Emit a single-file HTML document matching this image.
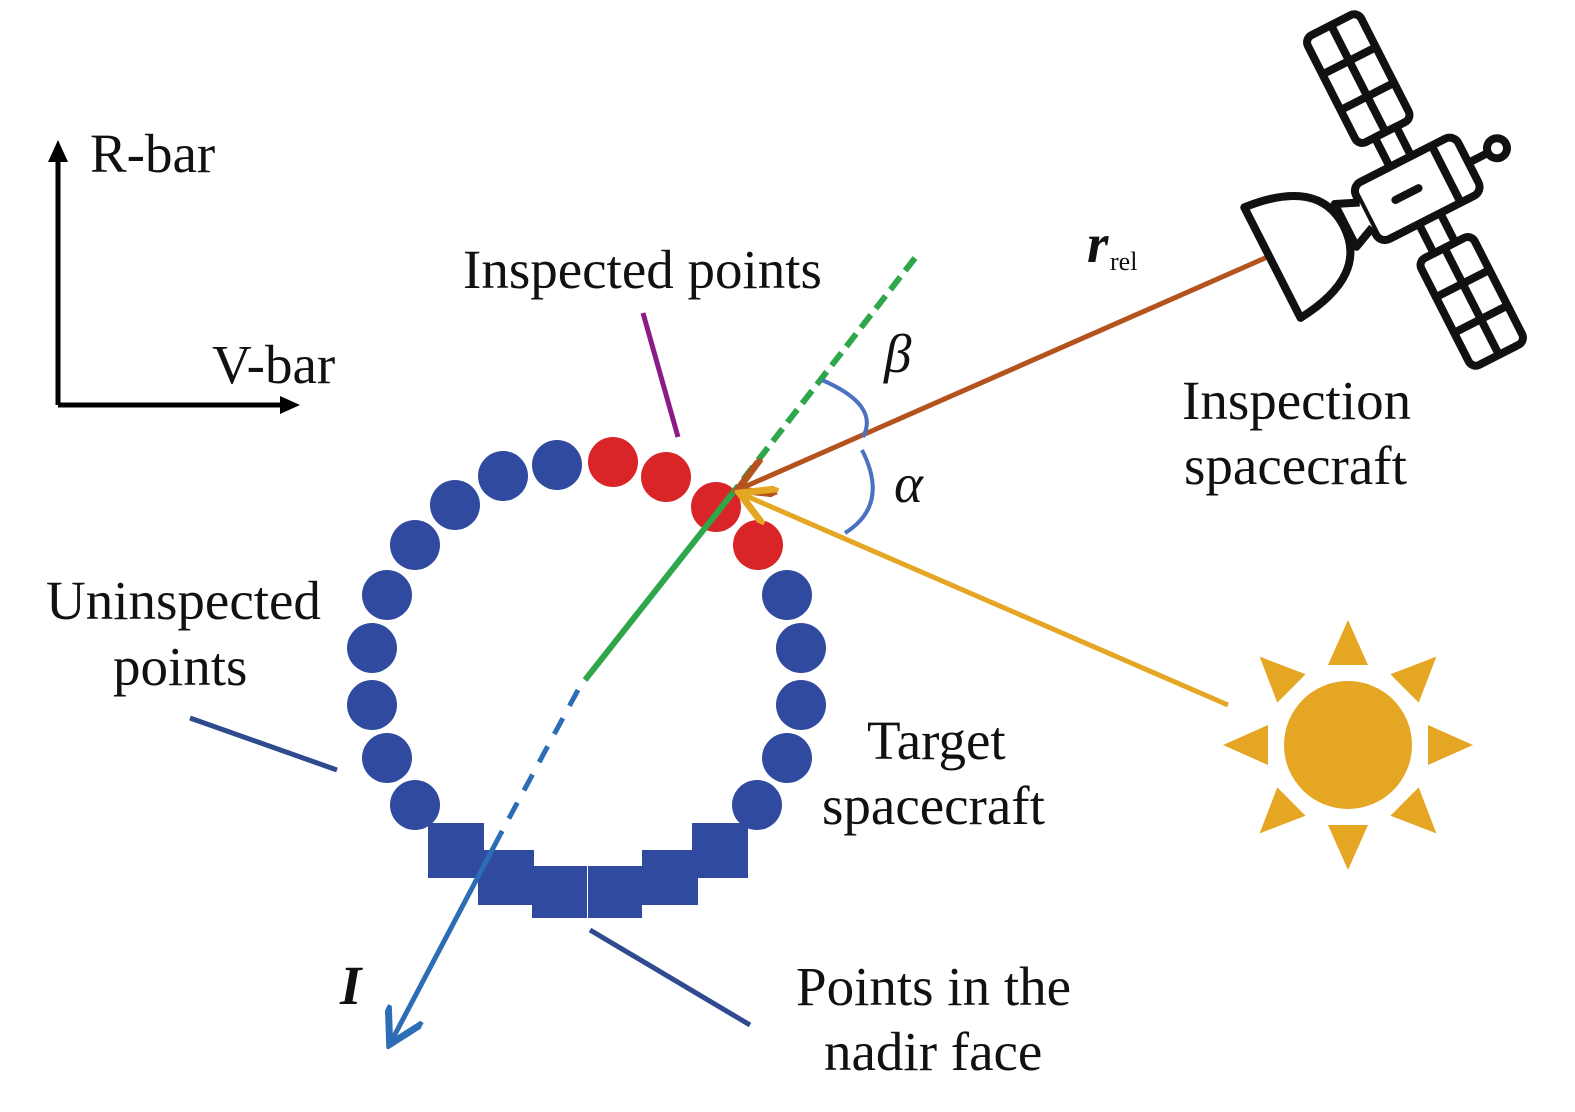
<!DOCTYPE html><html><head><style>body{margin:0;background:#fff}svg{display:block}text{font-family:"Liberation Serif",serif;font-size:55px;fill:#111}</style></head><body>
<svg width="1575" height="1112" viewBox="0 0 1575 1112">
<defs><marker id="ab" markerWidth="8" markerHeight="8" refX="6" refY="4" orient="auto" markerUnits="strokeWidth"><path d="M0,0 L7,4 L0,8" fill="none" stroke="context-stroke" stroke-width="1.4"/></marker></defs>
<path d="M58,405 V150 M58,405 H285" stroke="#000" stroke-width="5" fill="none"/>
<path d="M48,162 L58,140 L68,162Z M280,396 L300,405 L280,414Z" fill="#000"/>
<text x="90" y="172">R-bar</text><text x="212" y="383">V-bar</text>
<g fill="#2f4a9e">
<circle cx="557" cy="465" r="25"/><circle cx="503" cy="476" r="25"/><circle cx="455" cy="505" r="25"/><circle cx="415" cy="545" r="25"/><circle cx="387" cy="595" r="25"/><circle cx="372" cy="648" r="25"/><circle cx="372" cy="705" r="25"/><circle cx="387" cy="758" r="25"/><circle cx="415" cy="805" r="25"/>
<circle cx="787" cy="595" r="25"/><circle cx="801" cy="648" r="25"/><circle cx="801" cy="705" r="25"/><circle cx="787" cy="758" r="25"/><circle cx="757" cy="805" r="25"/>
<rect x="428" y="823" width="56" height="55"/><rect x="478" y="850" width="56" height="55"/><rect x="532" y="866" width="55" height="52"/><rect x="588" y="866" width="54" height="52"/><rect x="642" y="850" width="56" height="55"/><rect x="692" y="823" width="56" height="55"/>
</g>
<g fill="#d92428"><circle cx="613" cy="462" r="25"/><circle cx="666" cy="477" r="25"/><circle cx="716" cy="507" r="25"/><circle cx="758" cy="545" r="25"/></g>
<path d="M915,258 L735,490" stroke="#2ea64a" stroke-width="6" stroke-dasharray="16,8"/>
<path d="M735,490 L585,680" stroke="#2ea64a" stroke-width="6"/>
<path d="M578,690 L500,835" stroke="#2d6db5" stroke-width="5" stroke-dasharray="18,14"/>
<path d="M500,835 L392,1040" stroke="#2d6db5" stroke-width="5" marker-end="url(#ab)"/>
<path d="M1272,255 L742,488" stroke="#b5531f" stroke-width="5" marker-end="url(#ab)"/>
<path d="M1228,705 L744,495" stroke="#e5a623" stroke-width="5" marker-end="url(#ab)"/>
<path d="M822,380 Q880,405 863,437 M862,450 Q890,505 845,533" stroke="#4a72c0" stroke-width="4" fill="none"/>
<path d="M643,313 L678,437" stroke="#8a1c88" stroke-width="5"/>
<path d="M190,718 L337,770 M590,930 L750,1025" stroke="#2f4a8e" stroke-width="5"/>
<text x="463" y="288">Inspected points</text>
<text x="46" y="619">Uninspected</text><text x="113" y="685">points</text>
<text x="867" y="759">Target</text><text x="822" y="824">spacecraft</text>
<text x="796" y="1005">Points in the</text><text x="824" y="1070">nadir face</text>
<text x="1182" y="419">Inspection</text><text x="1184" y="484">spacecraft</text>
<text x="884" y="372" font-style="italic">β</text><text x="894" y="502" font-style="italic">α</text>
<text x="1087" y="262" font-style="italic" font-weight="bold">r</text><text x="1110" y="270" style="font-size:26px">rel</text>
<text x="340" y="1004" font-style="italic" font-weight="bold">I</text>
<g fill="#e5a623" transform="translate(1348,745)">
<circle r="64"/>
<g id="ray"><path d="M-20,-80 L0,-125 L20,-80Z"/></g>
<use href="#ray" transform="rotate(45)"/><use href="#ray" transform="rotate(90)"/><use href="#ray" transform="rotate(135)"/><use href="#ray" transform="rotate(180)"/><use href="#ray" transform="rotate(225)"/><use href="#ray" transform="rotate(270)"/><use href="#ray" transform="rotate(315)"/>
</g>
<g transform="translate(1415,190) rotate(-27)" stroke="#111" stroke-width="8" fill="#fff" stroke-linejoin="round">
<rect x="-30" y="-185" width="60" height="120" rx="8"/>
<path d="M0,-185 V-65 M-30,-145 H30 M-30,-105 H30"/>
<rect x="-12" y="-65" width="24" height="35"/>
<rect x="-30" y="65" width="60" height="120" rx="8"/>
<path d="M0,65 V185 M-30,105 H30 M-30,145 H30"/>
<rect x="-12" y="30" width="24" height="35"/>
<rect x="-55" y="-32" width="115" height="64" rx="10"/>
<path d="M35,-32 V32"/>
<path d="M-22,0 H4" stroke-linecap="round"/>
<path d="M60,0 H82"/><circle cx="92" cy="0" r="10"/>
<path d="M-55,-14 L-78,-24 L-78,24 L-55,14"/>
<path d="M-160,-62 L-160,62 Q-80,55 -80,0 Q-80,-55 -160,-62Z"/>
</g>
</svg></body></html>
